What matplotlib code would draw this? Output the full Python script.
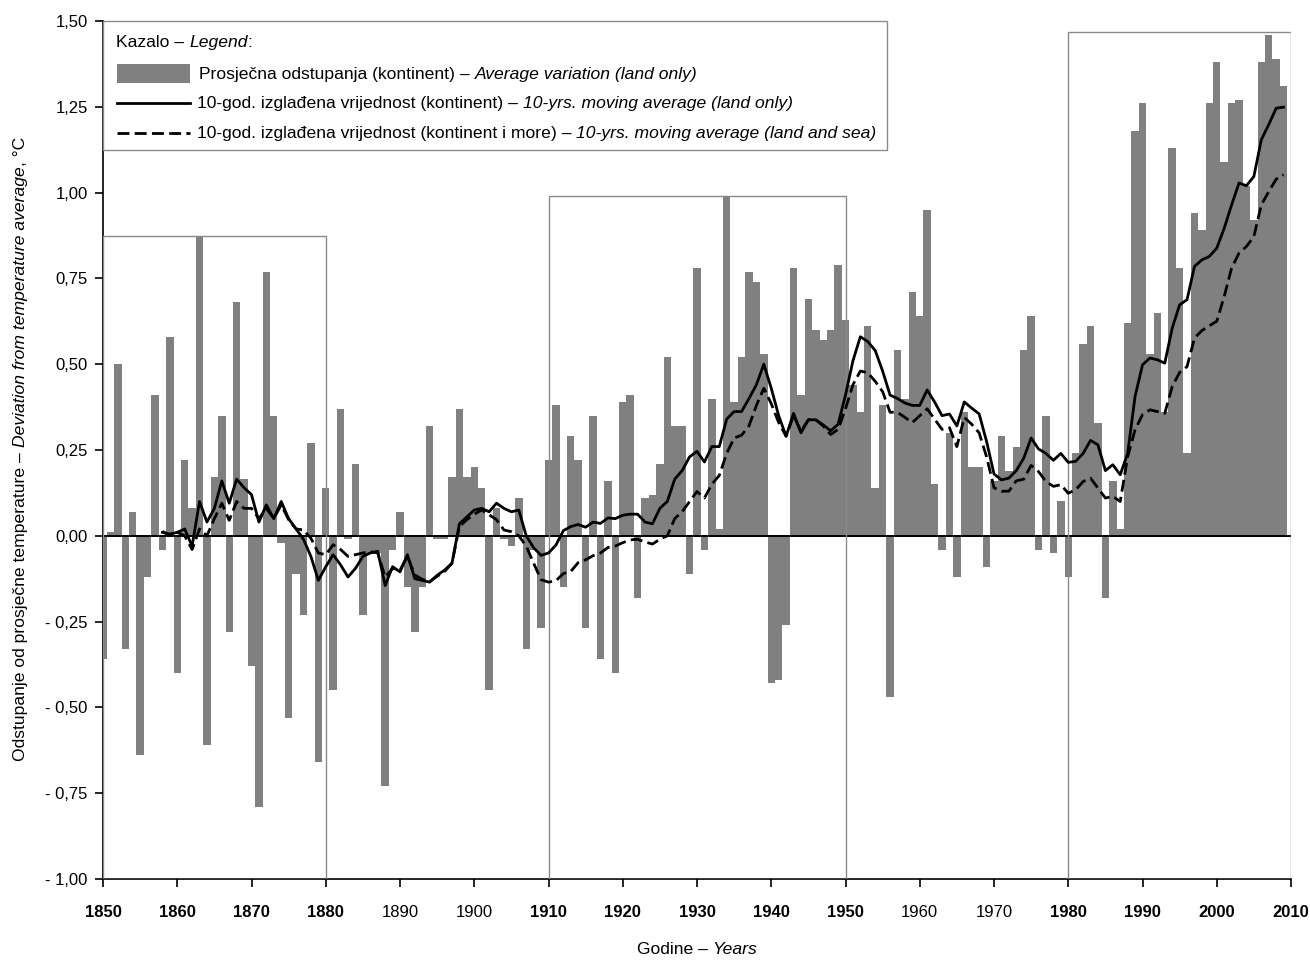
import numpy as np
import matplotlib
matplotlib.use('Agg')
import matplotlib.pyplot as plt
from matplotlib.patches import Rectangle
from matplotlib.lines import Line2D

plt.rcParams['font.family'] = ['Liberation Sans Narrow', 'Liberation Sans', 'DejaVu Sans']

# annual deviation, land only, 1850-2009
years = np.arange(1850, 2010)
deviation = [
    -0.36, 0.01, 0.50, -0.33, 0.07, -0.64, -0.12, 0.41, -0.04, 0.58,   # 1850
    -0.40, 0.22, 0.08, 0.87, -0.61, 0.17, 0.35, -0.28, 0.68, 0.165,    # 1860
    -0.38, -0.79, 0.77, 0.35, -0.02, -0.53, -0.11, -0.23, 0.27, -0.66, # 1870
    0.14, -0.45, 0.37, -0.01, 0.21, -0.23, -0.05, -0.05, -0.73, -0.04, # 1880
    0.07, -0.15, -0.28, -0.15, 0.32, -0.01, -0.01, 0.17, 0.37, 0.17,   # 1890
    0.20, 0.14, -0.45, 0.08, -0.01, -0.03, 0.11, -0.33, -0.04, -0.27,  # 1900
    0.22, 0.38, -0.15, 0.29, 0.22, -0.27, 0.35, -0.36, 0.16, -0.40,    # 1910
    0.39, 0.41, -0.18, 0.11, 0.12, 0.21, 0.52, 0.32, 0.32, -0.11,      # 1920
    0.78, -0.04, 0.40, 0.02, 0.99, 0.39, 0.52, 0.77, 0.74, 0.53,       # 1930
    -0.43, -0.42, -0.26, 0.78, 0.41, 0.69, 0.60, 0.57, 0.60, 0.79,     # 1940
    0.63, 0.44, 0.36, 0.61, 0.14, 0.38, -0.47, 0.54, 0.40, 0.71,       # 1950
    0.64, 0.95, 0.15, -0.04, 0.30, -0.12, 0.36, 0.20, 0.20, -0.09,     # 1960
    0.16, 0.29, 0.19, 0.26, 0.54, 0.64, -0.04, 0.35, -0.05, 0.10,      # 1970
    -0.12, 0.24, 0.56, 0.61, 0.33, -0.18, 0.16, 0.02, 0.62, 1.18,      # 1980
    1.26, 0.53, 0.65, 0.36, 1.13, 0.78, 0.24, 0.94, 0.89, 1.26,        # 1990
    1.38, 1.09, 1.26, 1.27, 1.02, 0.92, 1.38, 1.46, 1.39, 1.31,        # 2000
]

# 10-year moving averages, 1858-2009
ma_years = np.arange(1858, 2010)
ma_land = [
    0.01, 0.005,                                                        # 1858
    0.01, 0.02, -0.03, 0.10, 0.04, 0.08, 0.16, 0.095, 0.165, 0.14,      # 1860
    0.12, 0.04, 0.09, 0.05, 0.10, 0.05, 0.02, -0.01, -0.06, -0.13,      # 1870
    -0.09, -0.055, -0.085, -0.12, -0.095, -0.06, -0.05, -0.045, -0.145, -0.09,  # 1880
    -0.105, -0.055, -0.125, -0.13, -0.135, -0.115, -0.10, -0.08, 0.035, 0.055,  # 1890
    0.075, 0.08, 0.07, 0.095, 0.08, 0.07, 0.075, 0.0, -0.035, -0.057,   # 1900
    -0.05, -0.027, 0.015, 0.027, 0.033, 0.025, 0.04, 0.036, 0.052, 0.05,  # 1910
    0.06, 0.063, 0.063, 0.04, 0.035, 0.08, 0.10, 0.165, 0.19, 0.23,     # 1920
    0.246, 0.215, 0.26, 0.26, 0.34, 0.362, 0.362, 0.40, 0.44, 0.50,     # 1930
    0.43, 0.35, 0.29, 0.357, 0.30, 0.338, 0.338, 0.323, 0.306, 0.325,   # 1940
    0.41, 0.51, 0.58, 0.566, 0.54, 0.48, 0.41, 0.40, 0.387, 0.38,       # 1950
    0.38, 0.425, 0.39, 0.35, 0.355, 0.32, 0.39, 0.372, 0.355, 0.275,    # 1960
    0.18, 0.163, 0.168, 0.19, 0.226, 0.285, 0.253, 0.24, 0.22, 0.24,    # 1970
    0.214, 0.217, 0.24, 0.278, 0.265, 0.19, 0.207, 0.178, 0.24, 0.406,  # 1980
    0.498, 0.518, 0.513, 0.503, 0.605, 0.673, 0.688, 0.785, 0.804, 0.814,  # 1990
    0.838, 0.896, 0.964, 1.028, 1.02, 1.047, 1.154, 1.198, 1.246, 1.249,   # 2000
]
ma_land_sea = [
    0.013, 0.0,                                                         # 1858
    0.01, 0.0, -0.04, 0.02, 0.0, 0.05, 0.095, 0.045, 0.10, 0.08,        # 1860
    0.08, 0.05, 0.08, 0.05, 0.09, 0.047, 0.02, 0.017, -0.007, -0.05,    # 1870
    -0.055, -0.026, -0.04, -0.06, -0.055, -0.05, -0.046, -0.05, -0.12, -0.095,  # 1880
    -0.10, -0.06, -0.114, -0.127, -0.133, -0.118, -0.104, -0.08, 0.027, 0.047,  # 1890
    0.063, 0.075, 0.061, 0.047, 0.017, 0.012, 0.0, -0.03, -0.08, -0.128,  # 1900
    -0.135, -0.131, -0.11, -0.104, -0.078, -0.07, -0.058, -0.05, -0.034, -0.03,  # 1910
    -0.02, -0.012, -0.01, -0.018, -0.024, -0.01, 0.0, 0.05, 0.07, 0.10,  # 1920
    0.129, 0.11, 0.15, 0.176, 0.24, 0.285, 0.293, 0.32, 0.38, 0.43,     # 1930
    0.385, 0.33, 0.29, 0.35, 0.305, 0.338, 0.338, 0.32, 0.295, 0.31,    # 1940
    0.37, 0.44, 0.48, 0.475, 0.45, 0.42, 0.36, 0.36, 0.345, 0.33,       # 1950
    0.35, 0.37, 0.34, 0.31, 0.315, 0.26, 0.345, 0.325, 0.30, 0.23,      # 1960
    0.14, 0.13, 0.13, 0.16, 0.165, 0.205, 0.187, 0.158, 0.144, 0.149,   # 1970
    0.124, 0.134, 0.158, 0.168, 0.139, 0.11, 0.115, 0.10, 0.23, 0.309,  # 1980
    0.353, 0.367, 0.362, 0.357, 0.435, 0.476, 0.493, 0.576, 0.598, 0.612,  # 1990
    0.625, 0.697, 0.78, 0.824, 0.843, 0.872, 0.964, 1.003, 1.039, 1.052,   # 2000
]

# highlighted periods: (start, end, box top)
periods = [(1850, 1880, 0.875), (1910, 1950, 0.99), (1980, 2010, 1.467)]

ytick_vals = [-1.0, -0.75, -0.5, -0.25, 0.0, 0.25, 0.5, 0.75, 1.0, 1.25, 1.5]
ytick_text = ['- 1,00', '- 0,75', '- 0,50', '- 0,25', '0,00', '0,25', '0,50',
              '0,75', '1,00', '1,25', '1,50']
xtick_vals = list(range(1850, 2011, 10))

W, H = 1310, 961
BAR = '#808080'


def px(x, y):
    return x / W, 1 - y / H


fig = plt.figure(figsize=(W / 100, H / 100), dpi=100)
ax = fig.add_axes([103 / W, 1 - 879 / H, (1291 - 103) / W, (879 - 21) / H])

ax.bar(years, deviation, width=1.0, color=BAR, linewidth=0, zorder=2)
ax.axhline(0, color='black', lw=1.4, zorder=3)
for a, b, top in periods:
    ax.add_patch(Rectangle((a, -1.0), b - a, top + 1.0, fill=False,
                           edgecolor='#8a8a8a', lw=1.0, zorder=3))
ax.plot(ma_years, ma_land, color='black', lw=2.0, zorder=4)
ax.plot(ma_years, ma_land_sea, color='black', lw=2.0, ls=(0, (4.3, 1.9)), zorder=4)

ax.set_xlim(1850, 2010)
ax.set_ylim(-1.0, 1.5)
for s in ['top', 'right']:
    ax.spines[s].set_visible(False)
for s in ['left', 'bottom']:
    ax.spines[s].set_linewidth(1.2)

ax.set_yticks(ytick_vals)
ax.set_yticklabels(ytick_text, fontsize=12)
ax.set_xticks(xtick_vals)
ax.set_xticklabels([str(v) for v in xtick_vals], fontsize=12)
for v, lab in zip(xtick_vals, ax.get_xticklabels()):
    if any(a <= v <= b for a, b, _ in periods):
        lab.set_fontweight('bold')
ax.tick_params(axis='y', direction='out', length=6, width=1.2, pad=5)
ax.tick_params(axis='x', direction='out', length=6, width=1.2, pad=13)

renderer = fig.canvas.get_renderer()


def seg_len(t, rot):
    bb = t.get_window_extent(renderer)
    return bb.height if rot else bb.width


def mixed(x, y, parts, size, rot=0, center=False, zorder=6):
    # parts: list of (text, style); a gap of one space between parts
    probe = fig.text(0, 0, 'a a', fontsize=size)
    probe2 = fig.text(0, 0, 'aa', fontsize=size)
    space = probe.get_window_extent(renderer).width - probe2.get_window_extent(renderer).width
    probe.remove()
    probe2.remove()
    made = []
    for s, st in parts:
        t = fig.text(0, 0, s, fontsize=size, fontstyle=st, rotation=90 if rot else 0,
                     rotation_mode='anchor', ha='left', va='baseline', zorder=zorder)
        made.append(t)
    lens = [seg_len(t, rot) for t in made]
    gaps = [0 if (p[0].startswith(',') or p[0].startswith(':')) else space for p in parts]
    gaps[0] = 0
    total = sum(lens) + sum(gaps)
    pos = -total / 2 if center else 0
    for t, ln, g in zip(made, lens, gaps):
        pos += g
        if rot:
            t.set_position(px(x, y - pos))
        else:
            t.set_position(px(x + pos, y))
        pos += ln


# legend box
fig.add_artist(Rectangle(px(103, 150), (887 - 103) / W, (150 - 21) / H,
                         transform=fig.transFigure, facecolor='white',
                         edgecolor='#8a8a8a', lw=1.0, zorder=5))
fig.add_artist(Rectangle(px(117, 83), (190 - 117) / W, (83 - 64) / H,
                         transform=fig.transFigure, facecolor=BAR, lw=0, zorder=6))
x0, y0 = px(117, 102.5)
x1, _ = px(190, 102.5)
fig.add_artist(Line2D([x0, x1], [y0, y0], transform=fig.transFigure,
                      color='black', lw=2.0, zorder=6))
x0, y0 = px(117, 132.5)
fig.add_artist(Line2D([x0, x1], [y0, y0], transform=fig.transFigure,
                      color='black', lw=2.0, ls=(0, (4.3, 1.9)), zorder=6))

LS = 12.6
mixed(116, 47, [('Kazalo –', 'normal'), ('Legend', 'italic'), (':', 'normal')], LS)
mixed(199, 79, [('Prosječna odstupanja (kontinent) –', 'normal'),
                ('Average variation (land only)', 'italic')], LS)
mixed(197, 108, [('10-god. izglađena vrijednost (kontinent) –', 'normal'),
                 ('10-yrs. moving average (land only)', 'italic')], LS)
mixed(197, 138, [('10-god. izglađena vrijednost (kontinent i more) –', 'normal'),
                  ('10-yrs. moving average (land and sea)', 'italic')], LS)

# axis titles
mixed(697, 954, [('Godine –', 'normal'), ('Years', 'italic')], LS, center=True)
mixed(25, 449, [('Odstupanje od prosječne temperature –', 'normal'),
                ('Deviation from temperature average', 'italic'), (', °C', 'normal')],
      LS, rot=True, center=True)

fig.savefig('out.png', dpi=100, facecolor='white')
